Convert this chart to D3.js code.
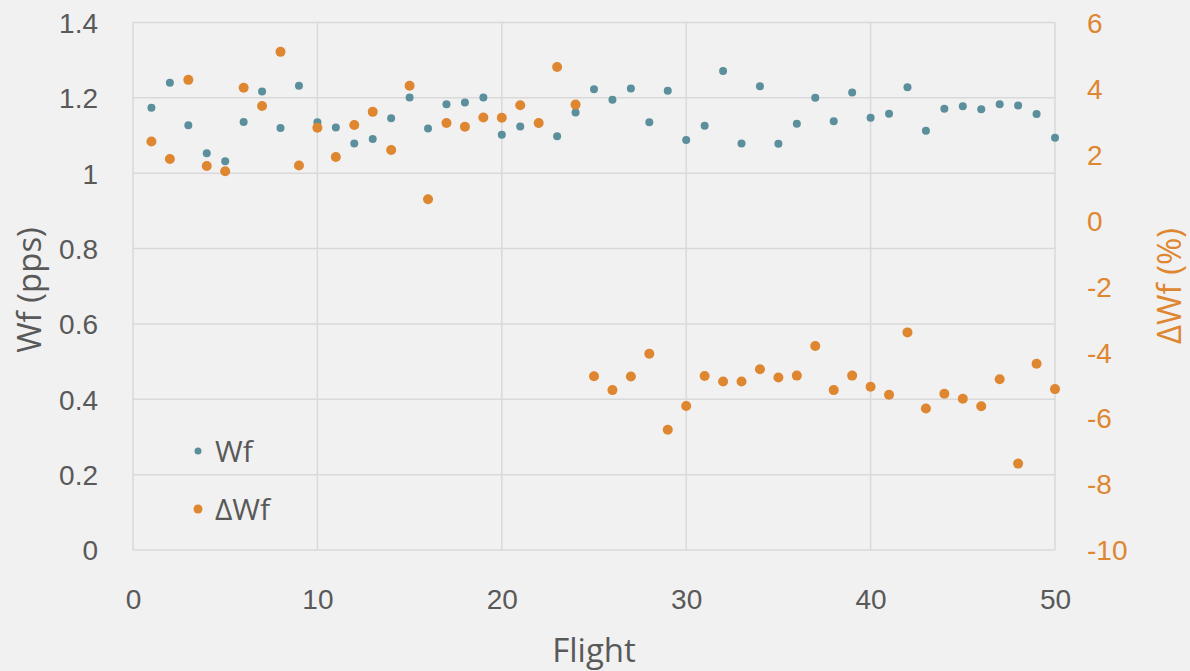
<!DOCTYPE html>
<html>
<head>
<meta charset="utf-8">
<script src="https://cdn.jsdelivr.net/npm/d3@7"></script>
<style>
  html, body { margin: 0; padding: 0; background: #f1f1f1; }
  svg { display: block; font-family: "Open Sans", "Noto Sans", sans-serif; }
</style>
</head>
<body>
<svg id="chart" width="1190" height="671"></svg>
<script>
// Flight numbers 1..50
const flights = [1,2,3,4,5,6,7,8,9,10,11,12,13,14,15,16,17,18,19,20,
  21,22,23,24,25,26,27,28,29,30,31,32,33,34,35,36,37,38,39,40,
  41,42,43,44,45,46,47,48,49,50];

// Fuel flow per flight (pps)
const wf = [1.174,1.240,1.127,1.053,1.032,1.136,1.217,1.120,1.232,1.135,
  1.121,1.079,1.091,1.146,1.201,1.119,1.183,1.188,1.201,1.102,
  1.124,1.132,1.098,1.161,1.223,1.195,1.225,1.135,1.219,1.088,
  1.126,1.271,1.079,1.231,1.078,1.131,1.200,1.138,1.214,1.147,
  1.158,1.228,1.113,1.171,1.178,1.170,1.183,1.180,1.157,1.094];

// Fuel flow deviation per flight (%)
const dwf = [2.39,1.86,4.26,1.65,1.49,4.02,3.47,5.11,1.66,2.81,
  1.92,2.89,3.29,2.13,4.08,0.64,2.95,2.84,3.12,3.11,
  3.49,2.95,4.65,3.51,-4.73,-5.15,-4.74,-4.05,-6.35,-5.63,
  -4.72,-4.89,-4.89,-4.52,-4.77,-4.71,-3.81,-5.15,-4.71,-5.05,
  -5.29,-3.40,-5.71,-5.26,-5.41,-5.64,-4.82,-7.38,-4.35,-5.12];

const xTicks = [0,10,20,30,40,50];
const yLeftTicks = [0,0.2,0.4,0.6,0.8,1,1.2,1.4];
const yRightTicks = [-10,-8,-6,-4,-2,0,2,4,6];

const teal = "#5b8f9c";
const orange = "#df8630";
const textGray = "#595959";
const gridGray = "#d9d9d9";

const svg = d3.select("#chart");
const m = { left: 133, right: 1055, top: 22.5, bottom: 550 };

const x = d3.scaleLinear().domain([0, 50]).range([m.left, m.right]);
const yL = d3.scaleLinear().domain([0, 1.4]).range([m.bottom, m.top]);
const yR = d3.scaleLinear().domain([-10, 6]).range([m.bottom, m.top]);

// Gridlines
const grid = svg.append("g").attr("stroke", gridGray).attr("stroke-width", 1.5);
grid.selectAll("line.h").data(yLeftTicks).join("line")
  .attr("x1", m.left).attr("x2", m.right)
  .attr("y1", d => yL(d)).attr("y2", d => yL(d));
grid.selectAll("line.v").data(xTicks).join("line")
  .attr("x1", d => x(d)).attr("x2", d => x(d))
  .attr("y1", m.top).attr("y2", m.bottom);

// Axes (labels only, no domain or tick marks)
const axisStyle = g => {
  g.select(".domain").remove();
  g.selectAll(".tick line").remove();
  g.selectAll(".tick text").attr("font-size", 28).attr("font-family", null);
};

// Plain number labels with an ASCII hyphen for negatives
const plain = d => String(+(+d).toFixed(1));

svg.append("g")
  .attr("transform", `translate(0,${m.bottom})`)
  .call(d3.axisBottom(x).tickValues(xTicks).tickFormat(plain).tickPadding(33))
  .call(axisStyle)
  .call(g => g.selectAll(".tick text").attr("fill", textGray));

svg.append("g")
  .attr("transform", `translate(${m.left},0)`)
  .call(d3.axisLeft(yL).tickValues(yLeftTicks).tickFormat(plain).tickPadding(29))
  .call(axisStyle)
  .call(g => g.selectAll(".tick text").attr("fill", textGray).attr("dy", "0.35em"));

svg.append("g")
  .attr("transform", `translate(${m.right},0)`)
  .call(d3.axisRight(yR).tickValues(yRightTicks).tickFormat(plain).tickPadding(26))
  .call(axisStyle)
  .call(g => g.selectAll(".tick text").attr("fill", orange).attr("dy", "0.35em"));

// Axis titles
svg.append("text")
  .attr("x", (m.left + m.right) / 2).attr("y", 662)
  .attr("text-anchor", "middle").attr("font-size", 33).attr("fill", textGray)
  .text("Flight");

svg.append("text")
  .attr("transform", `translate(41,290) rotate(-90)`)
  .attr("text-anchor", "middle").attr("font-size", 33).attr("fill", textGray)
  .text("Wf (pps)");

svg.append("text")
  .attr("transform", `translate(1181,286) rotate(-90)`)
  .attr("text-anchor", "middle").attr("font-size", 33).attr("fill", orange)
  .text("ΔWf (%)");

// Series points
const wfData = flights.map((f, i) => ({ f, v: wf[i] }));
const dwfData = flights.map((f, i) => ({ f, v: dwf[i] }));

svg.append("g").selectAll("circle").data(wfData).join("circle")
  .attr("cx", d => x(d.f)).attr("cy", d => yL(d.v)).attr("r", 4)
  .attr("fill", teal);

svg.append("g").selectAll("circle").data(dwfData).join("circle")
  .attr("cx", d => x(d.f)).attr("cy", d => yR(d.v)).attr("r", 5)
  .attr("fill", orange);

// Legend
const legend = svg.append("g");
const items = [
  { label: "Wf", color: teal, r: 3.5, y: 451 },
  { label: "ΔWf", color: orange, r: 4.5, y: 509 }
];
items.forEach(it => {
  legend.append("circle").attr("cx", 198).attr("cy", it.y).attr("r", it.r).attr("fill", it.color);
  legend.append("text").attr("x", 215).attr("y", it.y).attr("dy", "0.37em")
    .attr("font-size", 30).attr("fill", textGray).text(it.label);
});
</script>
</body>
</html>
